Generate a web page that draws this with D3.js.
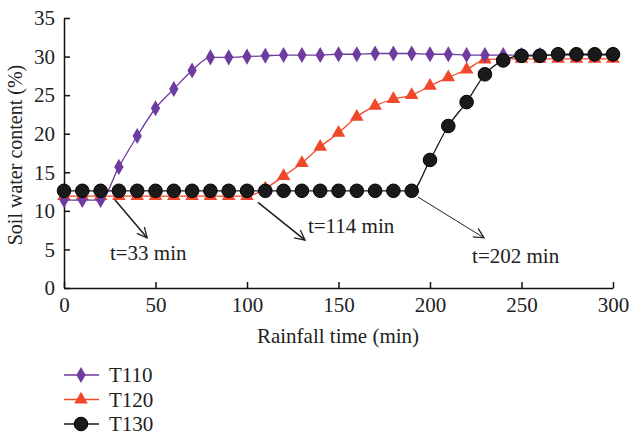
<!DOCTYPE html>
<html>
<head>
<meta charset="utf-8">
<script src="https://cdn.jsdelivr.net/npm/d3@7"></script>
<style>
  body { margin: 0; background: #fff; }
  svg { display: block; font-family: "Liberation Serif", "Times New Roman", serif; }
</style>
</head>
<body>
<div id="chart"></div>
<script>
const times = d3.range(0, 301, 10);
const t110 = [11.4, 11.4, 11.4, 15.7, 19.7, 23.3, 25.8, 28.2, 29.9, 29.9, 30.0, 30.1, 30.2, 30.2, 30.2, 30.3,
              30.3, 30.4, 30.4, 30.4, 30.3, 30.3, 30.2, 30.2, 30.2, 30.2, 30.2, 30.2, 30.2, 30.2, 30.2];
const t120 = [11.9, 11.9, 11.9, 11.9, 11.9, 11.9, 11.9, 11.9, 11.9, 11.9, 11.9, 12.9, 14.5, 16.2, 18.3, 20.1,
              22.2, 23.6, 24.5, 25.0, 26.2, 27.3, 28.3, 29.6, 29.7, 29.7, 29.7, 29.7, 29.7, 29.7, 29.7];
const t130 = [12.6, 12.6, 12.6, 12.6, 12.6, 12.6, 12.6, 12.6, 12.6, 12.6, 12.6, 12.6, 12.6, 12.6, 12.6, 12.6,
              12.6, 12.6, 12.6, 12.6, 16.6, 21.0, 24.1, 27.7, 29.5, 30.1, 30.1, 30.3, 30.3, 30.3, 30.3];
const xTicks = [0, 50, 100, 150, 200, 250, 300];
const yTicks = [0, 5, 10, 15, 20, 25, 30, 35];
const arrows = [
  { x1: 27.9, y1: 11.4, x2: 45.4, y2: 6.5, w: 1.6, label: "t=33 min", lx: 25.1, ly: 3.6 },
  { x1: 106, y1: 11.1, x2: 131.7, y2: 6.2, w: 1.6, label: "t=114 min", lx: 133.3, ly: 7.1 },
  { x1: 193.4, y1: 11.8, x2: 229.5, y2: 6.5, w: 1, label: "t=202 min", lx: 223, ly: 3.2 }
];

const series = [
  { name: "T110", values: t110, color: "#6e3b9e", shape: d3.symbolDiamond, size: 75 },
  { name: "T120", values: t120, color: "#f2482a", shape: d3.symbolTriangle, size: 80 },
  { name: "T130", values: t130, color: "#1a1a1a", shape: d3.symbolCircle, size: 145 }
];
const drawOrder = [series[1], series[0], series[2]];

const width = 629, height = 436;
const fs = 21;
const x = d3.scaleLinear().domain([0, 300]).range([64, 613]);
const y = d3.scaleLinear().domain([0, 35]).range([288, 18]);

const svg = d3.select('#chart').append('svg')
  .attr('width', width)
  .attr('height', height);

svg.append('defs').append('marker')
  .attr('id', 'arrow')
  .attr('viewBox', '0 0 12 12')
  .attr('refX', 11).attr('refY', 6)
  .attr('markerWidth', 12).attr('markerHeight', 12)
  .attr('markerUnits', 'userSpaceOnUse')
  .attr('orient', 'auto')
  .append('path')
    .attr('d', 'M1,1 L11,6 L1,11')
    .attr('fill', 'none')
    .attr('stroke', '#222')
    .attr('stroke-width', 1.3);

// axes
const xAxis = svg.append('g')
  .attr('transform', `translate(0,${y(0)})`)
  .call(d3.axisBottom(x).tickValues(xTicks).tickSizeInner(-6).tickSizeOuter(0).tickPadding(9));
const yAxis = svg.append('g')
  .attr('transform', `translate(${x(0)},0)`)
  .call(d3.axisLeft(y).tickValues(yTicks).tickSizeInner(-6).tickSizeOuter(0).tickPadding(9));

[xAxis, yAxis].forEach(g => {
  g.selectAll('path, line').attr('stroke', '#111').attr('stroke-width', 1.5);
  g.selectAll('text').attr('font-size', fs).attr('fill', '#222')
    .attr('font-family', '"Liberation Serif", serif');
});

svg.append('text')
  .attr('x', 338).attr('y', 343)
  .attr('text-anchor', 'middle')
  .attr('font-size', fs).attr('fill', '#222')
  .text('Rainfall time (min)');

svg.append('text')
  .attr('transform', `translate(22,${(y(0) + y(35)) / 2 + 2}) rotate(-90)`)
  .attr('text-anchor', 'middle')
  .attr('font-size', 20).attr('fill', '#222')
  .text('Soil water content (%)');

// lines and markers
const line = d3.line()
  .x((d, i) => x(times[i]))
  .y(d => y(d))
  .curve(d3.curveMonotoneX);

drawOrder.forEach(s => {
  svg.append('path')
    .datum(s.values)
    .attr('d', line)
    .attr('fill', 'none')
    .attr('stroke', s.color)
    .attr('stroke-width', 1.3);
  svg.append('g').selectAll('path')
    .data(s.values)
    .join('path')
      .attr('transform', (d, i) => `translate(${x(times[i])},${y(d)})`)
      .attr('d', d3.symbol().type(s.shape).size(s.size))
      .attr('fill', s.color)
      .attr('stroke', s.name === 'T130' ? '#000' : 'none')
      .attr('stroke-width', 1);
});

// annotations
const ann = svg.append('g');
arrows.forEach(a => {
  ann.append('line')
    .attr('x1', x(a.x1)).attr('y1', y(a.y1))
    .attr('x2', x(a.x2)).attr('y2', y(a.y2))
    .attr('stroke', '#222')
    .attr('stroke-width', a.w)
    .attr('marker-end', 'url(#arrow)');
  ann.append('text')
    .attr('x', x(a.lx)).attr('y', y(a.ly))
    .attr('font-size', fs).attr('fill', '#222')
    .text(a.label);
});

// legend
const legend = svg.append('g');
series.forEach((s, i) => {
  const ly = 375 + i * 24.5;
  legend.append('line')
    .attr('x1', 64).attr('x2', 99)
    .attr('y1', ly).attr('y2', ly)
    .attr('stroke', s.color).attr('stroke-width', 1.3);
  legend.append('path')
    .attr('transform', `translate(81,${ly})`)
    .attr('d', d3.symbol().type(s.shape).size(s.size))
    .attr('fill', s.color)
    .attr('stroke', s.name === 'T130' ? '#000' : 'none');
  legend.append('text')
    .attr('x', 109).attr('y', ly + 7)
    .attr('font-size', fs).attr('fill', '#222')
    .text(s.name);
});
</script>
</body>
</html>
